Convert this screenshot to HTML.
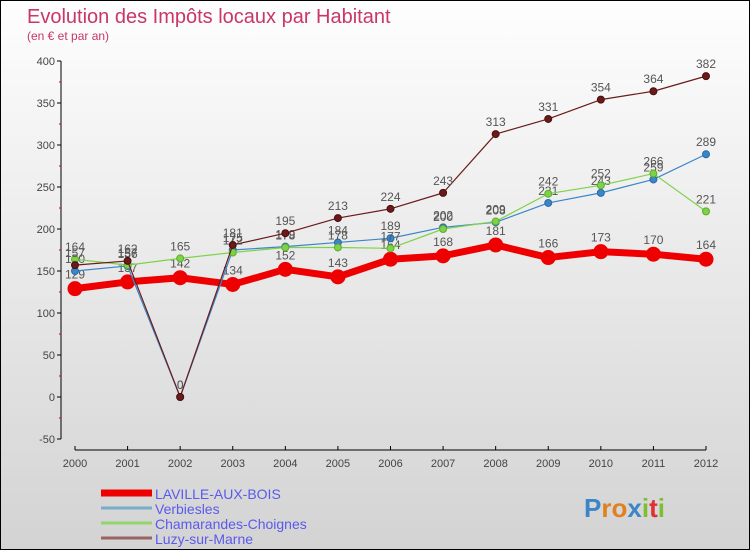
<!DOCTYPE html>
<html><head><meta charset="utf-8"><style>
body{margin:0;width:750px;height:550px;overflow:hidden;font-family:"Liberation Sans",sans-serif}
#wrap{position:relative;width:748px;height:548px;border:1px solid #000;background:linear-gradient(#fefefe,#d3d3d3)}
</style></head><body>
<div id="wrap">
<svg id="chart" width="748" height="548" font-family="Liberation Sans, sans-serif"></svg>
</div>
<script>
const years=[2000,2001,2002,2003,2004,2005,2006,2007,2008,2009,2010,2011,2012];
const laville=[129,137,142,134,152,143,164,168,181,166,173,170,164];
const verbiesles=[150,156,0,175,179,184,189,202,208,231,243,259,289];
const chamarandes=[164,157,165,172,178,178,177,200,209,242,252,266,221];
const luzy=[157,162,0,181,195,213,224,243,313,331,354,364,382];
const yTicks=[-50,0,50,100,150,200,250,300,350,400];
const seriesNames=["LAVILLE-AUX-BOIS","Verbiesles","Chamarandes-Choignes","Luzy-sur-Marne"];
const NS="http://www.w3.org/2000/svg";
const svg=document.getElementById('chart');
function X(i){return 74+i*(705-74)/12;}
function Y(v){return 396-v*0.84;}
function el(t,a,p){const e=document.createElementNS(NS,t);for(const k in a)e.setAttribute(k,a[k]);(p||svg).appendChild(e);return e;}
function txt(x,y,s,a){const e=el('text',Object.assign({x:x,y:y},a));e.textContent=s;return e;}
let t=txt(26,22,"Evolution des Impôts locaux par Habitant",{fill:"#c8366a","font-size":20});

t=txt(26,39,"(en € et par an)",{fill:"#c8366a","font-size":12});

let ax=el('line',{x1:60,y1:Y(400),x2:60,y2:Y(-50),stroke:"#000"});

yTicks.forEach(v=>{
 el('line',{x1:56,y1:Y(v),x2:60,y2:Y(v),stroke:"#000"});
 const l=txt(54,Y(v)+4,String(v),{fill:"#444","font-size":11,"text-anchor":"end"});
 
 if(v<400) el('line',{x1:58,y1:Y(v+25),x2:60,y2:Y(v+25),stroke:"#d00"});
});
ax=el('line',{x1:X(0),y1:449,x2:X(12),y2:449,stroke:"#000"});

years.forEach((y,i)=>{
 el('line',{x1:X(i),y1:445,x2:X(i),y2:449,stroke:"#000"});
 const l=txt(X(i),466,String(y),{fill:"#444","font-size":11,"text-anchor":"middle"});
 
});
function series(data,color,dark,w,r,name,labelDy){
 const g=el('g',{});
 
 el('polyline',{points:data.map((v,i)=>X(i)+","+Y(v)).join(" "),fill:"none",stroke:color,"stroke-width":w,"stroke-linejoin":"round"},g);
 data.forEach((v,i)=>{
  const c=el('circle',{cx:X(i),cy:Y(v),r:r,fill:color,stroke:dark,"stroke-width":1},g);
  
  const l=txt(X(i),Y(v)+labelDy,String(v),{fill:"#555","font-size":12,"text-anchor":"middle"},g);
  
  g.appendChild(l);
 });
}
series(laville,"#ee0000","#ee0000",7,7,"laville-series",-10);
series(verbiesles,"#3a86c8","#2a6aa8",1.2,3.5,"verbiesles-series",-8);
series(chamarandes,"#7ed24a","#5aae2a",1.2,3.5,"chamarandes-series",-8);
series(luzy,"#6b1a1a","#4a0e0e",1.2,3.5,"luzy-series",-8);
const lc=["#ee0000","#7aaccc","#94d46c","#9a6464"],lw=[7,3,3,3];
seriesNames.forEach((n,i)=>{
 const g=el('g',{});
 
 const y=492+i*15;
 el('line',{x1:100,y1:y,x2:151,y2:y,stroke:lc[i],"stroke-width":lw[i]},g);
 txt(154,y+6,n,{fill:"#5a5aee","font-size":14},g);
});
const lg=txt(583,516,"",{"font-size":26,"font-weight":"bold"});

[["P","#3a86c8"],["r","#e08020"],["o","#e08020"],["x","#3a86c8"],["i","#7ac030"],["t","#e03030"],["i","#7ac030"]].forEach(([c,f])=>{
 const s=document.createElementNS(NS,'tspan');s.setAttribute('fill',f);s.textContent=c;lg.appendChild(s);
});
</script>
</body></html>
